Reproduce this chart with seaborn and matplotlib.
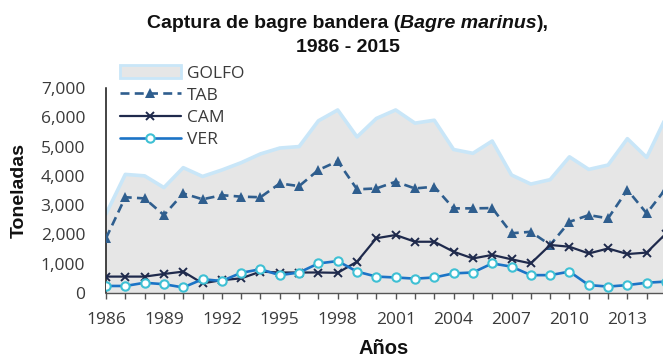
import matplotlib
matplotlib.use("Agg")
import matplotlib.pyplot as plt
from matplotlib.patches import Patch
from matplotlib.lines import Line2D
from matplotlib.ticker import FuncFormatter
import seaborn as sns
import pandas as pd

# Capture of gafftopsail catfish by state, tonnes per year
years = list(range(1986, 2016))
golfo = [2700, 4050, 4000, 3600, 4280, 3980, 4200, 4450, 4750, 4950,
         5000, 5880, 6250, 5330, 5960, 6250, 5800, 5900, 4900, 4770,
         5190, 4030, 3720, 3870, 4650, 4220, 4370, 5270, 4630, 6000]
tab = [1870, 3270, 3230, 2660, 3400, 3200, 3340, 3290, 3270, 3740,
       3650, 4200, 4500, 3540, 3570, 3800, 3570, 3630, 2890, 2890,
       2900, 2040, 2090, 1640, 2430, 2660, 2550, 3520, 2720, 3570]
cam = [560, 560, 560, 650, 730, 330, 440, 500, 730, 700,
       700, 700, 690, 1070, 1870, 1980, 1750, 1750, 1410, 1180,
       1300, 1150, 1010, 1640, 1580, 1350, 1520, 1330, 1380, 2030]
ver = [240, 240, 350, 300, 190, 470, 410, 690, 810, 610,
       700, 1010, 1090, 730, 560, 530, 490, 530, 670, 700,
       1010, 900, 610, 610, 730, 270, 220, 270, 350, 390]
labeled_years = list(range(1986, 2016, 3))

df = pd.DataFrame({"Año": years, "GOLFO": golfo, "TAB": tab, "CAM": cam, "VER": ver})

sns.set_theme(style="white")
plt.rcParams["font.family"] = ["Open Sans", "DejaVu Sans"]

W, H = 663, 358
fig = plt.figure(figsize=(W / 100, H / 100), dpi=100)
ax = fig.add_axes([106 / W, 65 / H, 560 / W, 205 / H])
ax.set_facecolor("white")

c_fill = "#E6E6E6"
c_golfo = "#C9E6F8"
c_tab = "#2F5E8E"
c_cam = "#1F2A4C"
c_ver = "#1C74C6"
c_ver_edge = "#3EC0D4"

tab_style = dict(color=c_tab, lw=1.9, linestyle=(0, (3.4, 2.0)), marker="^",
                 markersize=6.5, markeredgewidth=0)
cam_style = dict(color=c_cam, lw=1.6, marker="x", markersize=5.5,
                 markeredgewidth=1.4, markeredgecolor=c_cam)
ver_style = dict(color=c_ver, lw=1.9, marker="o", markersize=6,
                 markerfacecolor="white", markeredgecolor=c_ver_edge,
                 markeredgewidth=1.5)

# Gulf total as a shaded area
ax.fill_between(df["Año"], df["GOLFO"], color=c_fill, lw=0, zorder=1)
sns.lineplot(data=df, x="Año", y="GOLFO", ax=ax, color=c_golfo, lw=2.6, zorder=2)

sns.lineplot(data=df, x="Año", y="TAB", ax=ax, zorder=3, **tab_style)
sns.lineplot(data=df, x="Año", y="CAM", ax=ax, zorder=4, **cam_style)
sns.lineplot(data=df, x="Año", y="VER", ax=ax, zorder=5, **ver_style)

ax.set_xlim(1986, 2015)
ax.set_ylim(0, 7000)
ax.set_xlabel("")
ax.set_ylabel("")
ax.set_xticks(years)
ax.set_xticklabels([str(y) if y in labeled_years else "" for y in years])
ax.set_yticks(range(0, 7001, 1000))
ax.yaxis.set_major_formatter(FuncFormatter(lambda v, p: f"{int(v):,}"))

tick_color = "#3A3A3A"
ax.tick_params(axis="x", length=4.5, width=1, color="#555555", direction="out",
               pad=9, labelsize=12.5, labelcolor=tick_color, bottom=True)
ax.tick_params(axis="y", length=0, pad=15, labelsize=12.5, labelcolor=tick_color)

for s in ["top", "right"]:
    ax.spines[s].set_visible(False)
ax.spines["left"].set_color("#111111")
ax.spines["left"].set_linewidth(1.1)
ax.spines["bottom"].set_color("#555555")
ax.spines["bottom"].set_linewidth(1.0)

# Legend
handles = [
    Patch(facecolor=c_fill, edgecolor=c_golfo, linewidth=2.0),
    Line2D([], [], **tab_style),
    Line2D([], [], **cam_style),
    Line2D([], [], **ver_style),
]
fig.legend(handles, ["GOLFO", "TAB", "CAM", "VER"], loc="upper left",
           bbox_to_anchor=(120 / W, 1 - 65 / H), frameon=False, fontsize=12.5,
           handlelength=3.5, handleheight=0.78, handletextpad=0.38,
           labelspacing=0.32, borderpad=0, borderaxespad=0,
           labelcolor=tick_color)

# Title with the scientific name in bold italic
title_font = "Liberation Sans"
parts = [("Captura de bagre bandera (", "normal"), ("Bagre marinus", "italic"), ("),", "normal")]
renderer = fig.canvas.get_renderer()
texts = []
for s, st in parts:
    t = fig.text(0, 0, s, fontsize=14, fontweight="bold", style=st,
                 family=title_font, color="#111111", va="baseline", ha="left")
    texts.append(t)
widths = [t.get_window_extent(renderer).width for t in texts]
total = sum(widths)
x0 = 348 - total / 2
for t, w in zip(texts, widths):
    t.set_position((x0 / W, 1 - 28 / H))
    x0 += w
fig.text(348 / W, 1 - 51.5 / H, "1986 - 2015", fontsize=14, fontweight="bold",
         family=title_font, color="#111111", va="baseline", ha="center")

fig.text(19.5 / W, 1 - 191 / H, "Toneladas", rotation=90, fontsize=14,
         fontweight="bold", family=title_font, color="#111111",
         ha="center", va="center")
fig.text(384 / W, 1 - 353.5 / H, "Años", fontsize=14.5, fontweight="bold",
         family=title_font, color="#111111", ha="center", va="baseline")

fig.savefig("out.png", dpi=100, facecolor="white")
